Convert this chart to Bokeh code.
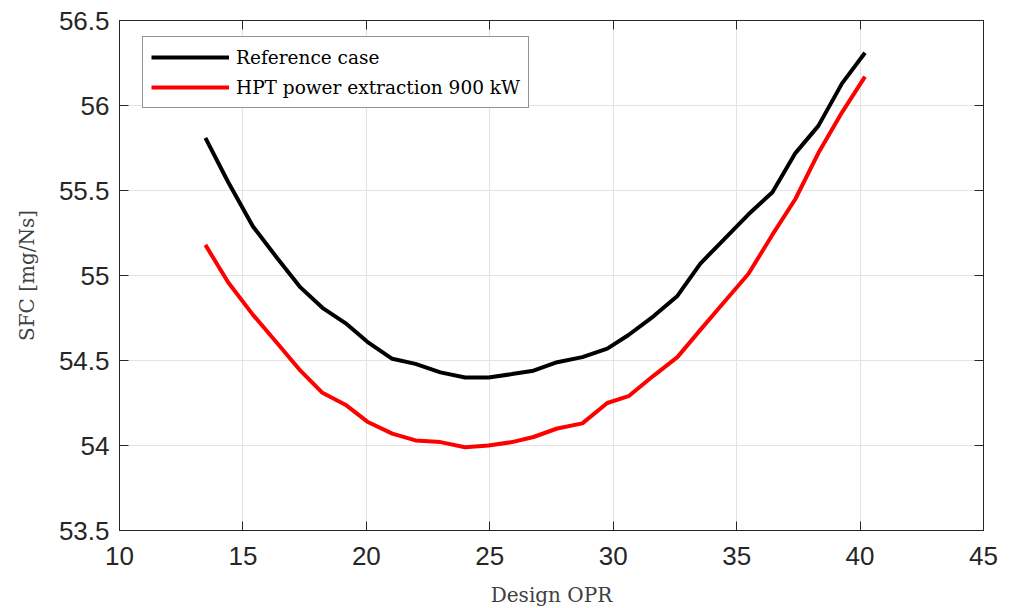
from bokeh.plotting import figure
from bokeh.models import Range1d, LinearAxis, Legend, LegendItem, FixedTicker
from bokeh.embed import file_html
from bokeh.resources import INLINE

opr = [13.48, 14.4, 15.4, 16.4, 17.33, 18.22, 19.15, 20.04, 21.05, 21.99, 23.0, 24.0, 24.95,
       25.9, 26.77, 27.73, 28.75, 29.76, 30.62, 31.63, 32.6, 33.53, 34.47, 35.48, 36.45,
       37.38, 38.31, 39.27, 40.2]
sfc_ref = [55.81, 55.55, 55.29, 55.10, 54.93, 54.81, 54.72, 54.61, 54.51, 54.48, 54.43, 54.40,
           54.40, 54.42, 54.44, 54.49, 54.52, 54.57, 54.65, 54.76, 54.88, 55.07, 55.21, 55.36,
           55.49, 55.72, 55.88, 56.13, 56.31]
sfc_hpt = [55.18, 54.96, 54.77, 54.60, 54.44, 54.31, 54.24, 54.14, 54.07, 54.03, 54.02, 53.99,
           54.00, 54.02, 54.05, 54.10, 54.13, 54.25, 54.29, 54.41, 54.52, 54.68, 54.84, 55.01,
           55.24, 55.45, 55.72, 55.96, 56.17]
x_ticks = [10, 15, 20, 25, 30, 35, 40, 45]
y_ticks = [53.5, 54, 54.5, 55, 55.5, 56, 56.5]
y_labels = {53.5: "53.5", 54: "54", 54.5: "54.5", 55: "55", 55.5: "55.5", 56: "56", 56.5: "56.5"}

p = figure(frame_width=864, frame_height=510, output_backend="svg", toolbar_location=None,
           x_range=Range1d(10, 45), y_range=Range1d(53.5, 56.5),
           min_border_left=119, min_border_right=27, min_border_top=20, min_border_bottom=78,
           background_fill_color="white", border_fill_color="white")
p.outline_line_color = "#262626"
p.outline_line_width = 1

tick_color = "#262626"
for ax in [p.xaxis[0], p.yaxis[0]]:
    ax.axis_line_color = tick_color
    ax.major_tick_line_color = tick_color
    ax.major_tick_in = 9
    ax.major_tick_out = 0
    ax.minor_tick_line_color = None
    ax.major_label_text_font = "Liberation Sans"
    ax.major_label_text_font_size = "26px"
    ax.major_label_text_color = "#262626"
    ax.axis_label_text_font = "DejaVu Serif"
    ax.axis_label_text_font_size = "20px"
    ax.axis_label_text_font_style = "normal"
    ax.axis_label_text_color = "#404040"

p.xaxis[0].ticker = FixedTicker(ticks=x_ticks)
p.yaxis[0].ticker = FixedTicker(ticks=y_ticks)
p.yaxis[0].major_label_overrides = y_labels
p.xaxis[0].major_label_standoff = 16
p.yaxis[0].major_label_standoff = 10
p.xaxis[0].axis_label = "Design OPR"
p.yaxis[0].axis_label = "SFC [mg/Ns]"
p.xaxis[0].axis_label_standoff = 15
p.yaxis[0].axis_label_standoff = 17

top = LinearAxis(ticker=FixedTicker(ticks=x_ticks), major_label_text_font_size="1px",
                 major_label_text_color=None,
                 major_tick_in=9, major_tick_out=0, minor_tick_line_color=None,
                 axis_line_color=tick_color, major_tick_line_color=tick_color)
right = LinearAxis(ticker=FixedTicker(ticks=y_ticks), major_label_text_font_size="1px",
                   major_label_text_color=None,
                   major_tick_in=9, major_tick_out=0, minor_tick_line_color=None,
                   axis_line_color=tick_color, major_tick_line_color=tick_color)
top.major_label_standoff = 0
right.major_label_standoff = 0
p.add_layout(top, "above")
p.add_layout(right, "right")

p.xgrid.ticker = FixedTicker(ticks=x_ticks)
p.ygrid.ticker = FixedTicker(ticks=y_ticks)
for g in [p.xgrid[0], p.ygrid[0]]:
    g.grid_line_color = "#e3e3e3"
    g.grid_line_width = 1

r1 = p.line(opr, sfc_ref, line_color="black", line_width=4)
r2 = p.line(opr, sfc_hpt, line_color="#ff0000", line_width=4)

legend = Legend(items=[LegendItem(label="Reference case", renderers=[r1]),
                       LegendItem(label="HPT power extraction 900 kW", renderers=[r2])],
                location=(23, 422), orientation="vertical")
legend.border_line_color = "#262626"
legend.border_line_width = 1
legend.background_fill_color = "white"
legend.background_fill_alpha = 1
legend.label_text_font = "DejaVu Serif"
legend.label_text_font_size = "18.5px"
legend.label_text_color = "black"
legend.glyph_width = 78
legend.glyph_height = 24
legend.label_height = 24
legend.label_standoff = 7
legend.padding = 8
legend.margin = 0
legend.spacing = 6
p.add_layout(legend, "center")

open("out.html", "w").write(file_html(p, INLINE))
